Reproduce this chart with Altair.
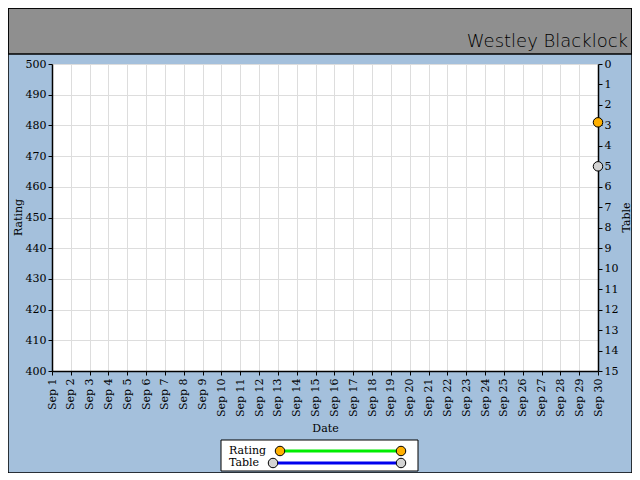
import altair as alt
import pandas as pd

# ---- data ----
dates = ["Sep 1", "Sep 2", "Sep 3", "Sep 4", "Sep 5", "Sep 6", "Sep 7", "Sep 8",
         "Sep 9", "Sep 10", "Sep 11", "Sep 12", "Sep 13", "Sep 14", "Sep 15",
         "Sep 16", "Sep 17", "Sep 18", "Sep 19", "Sep 20", "Sep 21", "Sep 22",
         "Sep 23", "Sep 24", "Sep 25", "Sep 26", "Sep 27", "Sep 28", "Sep 29",
         "Sep 30"]
rating_dates = ["Sep 30"]
rating_values = [481]
table_dates = ["Sep 30"]
table_values = [5]
rating_ticks = [400, 410, 420, 430, 440, 450, 460, 470, 480, 490, 500]
table_ticks = [0, 1, 2, 3, 4, 5, 6, 7, 8, 9, 10, 11, 12, 13, 14, 15]
series_names = ["Rating", "Table"]
player = "Westley Blacklock"

GREEN = "#00ee00"
BLUE = "#0000ee"
ORANGE = "#ffb000"
GRAY = "#d3d3d3"
FONT = "DejaVu Serif"

df_r = pd.DataFrame({"date": rating_dates, "rating": rating_values})
df_t = pd.DataFrame({"date": table_dates, "table": table_values})
one = pd.DataFrame({"k": [0]})

xenc = alt.X("date:O", sort=dates,
             scale=alt.Scale(type="point", domain=dates, padding=0),
             axis=alt.Axis(title="Date", labelAngle=270, grid=True,
                           labelPadding=3, titlePadding=6))

y_r = alt.Y("rating:Q", scale=alt.Scale(domain=[400, 500], nice=False, zero=False),
            axis=alt.Axis(title="Rating", values=rating_ticks, grid=True,
                          titleAngle=270, titleX=-34, titleY=153,
                          titleAlign="center", titleBaseline="middle"))
y_t = alt.Y("table:Q", scale=alt.Scale(domain=[0, 15], reverse=True, nice=False),
            axis=alt.Axis(title="Table", orient="right", values=table_ticks,
                          grid=False, titleAngle=270, titleX=28, titleY=153,
                          titleAlign="center", titleBaseline="middle"))

rating_line = alt.Chart(df_r).mark_line(color=GREEN, strokeWidth=3).encode(x=xenc, y=y_r)
rating_pts = alt.Chart(df_r).mark_circle(size=90, color=ORANGE, opacity=1,
                                         stroke="black", strokeWidth=1).encode(x=xenc, y=y_r)
table_line = alt.Chart(df_t).mark_line(color=BLUE, strokeWidth=3).encode(x=xenc, y=y_t)
table_pts = alt.Chart(df_t).mark_circle(size=90, color=GRAY, opacity=1,
                                        stroke="black", strokeWidth=1).encode(x=xenc, y=y_t)

rating_layer = alt.layer(rating_line, rating_pts)
table_layer = alt.layer(table_line, table_pts)

# ---- decorations: header band, frame, legend ----
base = alt.Chart(one)
header = base.mark_rect(fill="#8f8f8f", stroke="black", strokeWidth=1.5).encode(
    x=alt.value(-44), x2=alt.value(580), y=alt.value(-56), y2=alt.value(-10))
name = base.mark_text(text=player, font="DejaVu Sans", fontSize=18, align="right",
                      baseline="alphabetic", color="black", fontWeight=300).encode(
    x=alt.value(576), y=alt.value(-17))
frame = base.mark_rect(fill="transparent", stroke="black", strokeWidth=1.5).encode(
    x=alt.value(-44), x2=alt.value(580), y=alt.value(-56), y2=alt.value(409))

leg_box = base.mark_rect(fill="white", stroke="black", strokeWidth=1).encode(
    x=alt.value(169), x2=alt.value(366), y=alt.value(376), y2=alt.value(407))
leg_t1 = base.mark_text(text=series_names[0], font=FONT, fontSize=11, align="left",
                        baseline="middle", color="black").encode(
    x=alt.value(177), y=alt.value(387))
leg_t2 = base.mark_text(text=series_names[1], font=FONT, fontSize=11, align="left",
                        baseline="middle", color="black").encode(
    x=alt.value(177), y=alt.value(399))
leg_l1 = base.mark_rule(color=GREEN, strokeWidth=3).encode(
    x=alt.value(228), x2=alt.value(349), y=alt.value(387))
leg_l2 = base.mark_rule(color=BLUE, strokeWidth=3).encode(
    x=alt.value(221), x2=alt.value(349), y=alt.value(399))
leg_c = []
for xv, yv, col in [(228, 387, ORANGE), (349, 387, ORANGE), (221, 399, GRAY), (349, 399, GRAY)]:
    leg_c.append(base.mark_point(shape="circle", filled=True, size=90, fill=col, opacity=1,
                                 stroke="black", strokeWidth=1).encode(
        x=alt.value(xv), y=alt.value(yv)))

chart = alt.layer(
    header, name, frame, leg_box, leg_l1, leg_l2, leg_t1, leg_t2, *leg_c,
    rating_layer, table_layer
).resolve_scale(y="independent").properties(
    width=546, height=307,
    autosize=alt.AutoSizeParams(type="none"),
    padding={"left": 44, "top": 56, "right": 34, "bottom": 102},
).configure(
    background="#a4c0dc", font=FONT
).configure_view(
    fill="white", strokeWidth=0
).configure_axis(
    labelFont=FONT, titleFont=FONT, labelFontSize=11, titleFontSize=11,
    titleFontWeight="normal", labelColor="black", titleColor="black",
    domainColor="black", tickColor="black", gridColor="#dddddd",
    tickSize=4, domainWidth=1.5
)

chart.save("out.html", embed_options={"renderer": "svg", "actions": False})
